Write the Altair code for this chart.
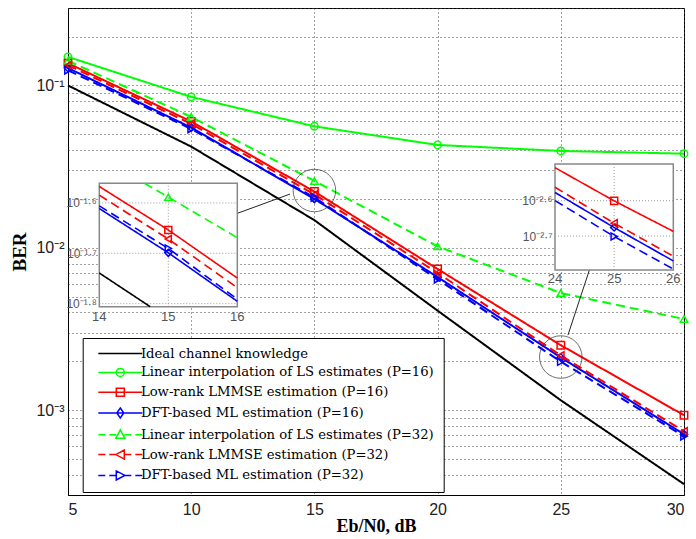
import math
import altair as alt
import pandas as pd

# ---------------- data ----------------
X = [5, 10, 15, 20, 25, 30]
SERIES = [
    "Ideal channel knowledge",
    "Linear interpolation of LS estimates (P=16)",
    "Low-rank LMMSE estimation (P=16)",
    "DFT-based ML estimation (P=16)",
    "Linear interpolation of LS estimates (P=32)",
    "Low-rank LMMSE estimation (P=32)",
    "DFT-based ML estimation (P=32)",
]
ideal   = [0.100, 0.042, 0.0148, 0.0041, 0.00115, 0.00035]
ls16    = [0.150, 0.085, 0.056, 0.043, 0.0395, 0.038]
lmmse16 = [0.137, 0.060, 0.0222, 0.0074, 0.00251, 0.00093]
dft16   = [0.128, 0.055, 0.0200, 0.0066, 0.00211, 0.00071]
ls32    = [0.142, 0.064, 0.0258, 0.0102, 0.00526, 0.00364]
lmmse32 = [0.133, 0.058, 0.0213, 0.0070, 0.00217, 0.00074]
dft32   = [0.124, 0.054, 0.0204, 0.0064, 0.00199, 0.00069]
VALUES = [ideal, ls16, lmmse16, dft16, ls32, lmmse32, dft32]

COLORS = ["#000000", "#00ff00", "#ff0000", "#0000ff", "#00ff00", "#ff0000", "#0000ff"]
DASHES = [[1, 0], [1, 0], [1, 0], [1, 0], [9, 5], [9, 5], [9, 5]]
MARKERS = [None, "circle", "square", "diamond", "triangle-up", "triangle-left", "triangle-right"]

# legend glyphs: line (solid / dashed) with the marker drawn on it
SOLID = "M0,0H44"
DASHED = "M0,0H7M11,0H18M26,0H33M37,0H44"
MK = {
    None: "",
    "circle": "M26,0A4,4 0 1,1 18,0A4,4 0 1,1 26,0",
    "square": "M18,-4H26V4H18Z",
    "diamond": "M22,-5L25.5,0L22,5L18.5,0Z",
    "triangle-up": "M22,-5L26.5,3.5L17.5,3.5Z",
    "triangle-left": "M17.5,0L26,-4.5L26,4.5Z",
    "triangle-right": "M26.5,0L18,-4.5L18,4.5Z",
}
LEG_SHAPES = [(SOLID if d == [1, 0] else DASHED) + MK[m] for d, m in zip(DASHES, MARKERS)]

# zoom circles (centre in data units) and connector lines (data units)
CIRCLES_X = [15, 25]
CIRCLES_Y = [10 ** -1.647, 10 ** -2.673]
CONN_X1 = [11.87, 26.16]
CONN_Y1 = [10 ** -1.788, 10 ** -2.137]
CONN_X2 = [14.01, 25.29]
CONN_Y2 = [10 ** -1.669, 10 ** -2.538]

# insets: domains
IN1_X = [14, 16]
IN1_L = [-1.806, -1.561]
IN2_X = [24, 26]
IN2_L = [-2.796, -2.496]

W, H = 616, 487

rows = []
for s, v in zip(SERIES, VALUES):
    for x, y in zip(X, v):
        rows.append({"series": s, "x": x, "y": y})
df = pd.DataFrame(rows)


def clip_poly(xs, ly, x0, x1, l0, l1):
    segs, cur = [], []
    for i in range(len(xs) - 1):
        ax, ay, bx, by = xs[i], ly[i], xs[i + 1], ly[i + 1]
        dx, dy = bx - ax, by - ay
        t0, t1, ok = 0.0, 1.0, True
        for p, q in ((-dx, ax - x0), (dx, x1 - ax), (-dy, ay - l0), (dy, l1 - ay)):
            if p == 0:
                if q < 0:
                    ok = False
                    break
            else:
                t = q / p
                if p < 0:
                    t0 = max(t0, t)
                else:
                    t1 = min(t1, t)
        if not ok or t0 > t1:
            if cur:
                segs.append(cur)
                cur = []
            continue
        p0 = (ax + t0 * dx, ay + t0 * dy)
        p1 = (ax + t1 * dx, ay + t1 * dy)
        if cur and abs(cur[-1][0] - p0[0]) < 1e-9 and abs(cur[-1][1] - p0[1]) < 1e-9:
            cur.append(p1)
        else:
            if cur:
                segs.append(cur)
            cur = [p0, p1]
    if cur:
        segs.append(cur)
    return segs


def inset_frames(xd, ld):
    lrows, prows = [], []
    k = 0
    for s, v in zip(SERIES, VALUES):
        ly = [math.log10(a) for a in v]
        for seg in clip_poly(X, ly, xd[0], xd[1], ld[0], ld[1]):
            for j, (px, pl) in enumerate(seg):
                lrows.append({"series": s, "seg": k, "ord": j, "x": px, "y": 10 ** pl})
            k += 1
        for x, a in zip(X, v):
            if xd[0] <= x <= xd[1] and ld[0] <= math.log10(a) <= ld[1]:
                prows.append({"series": s, "x": x, "y": a})
    return pd.DataFrame(lrows), pd.DataFrame(prows)


def line_layers(data, xenc, yenc, width, extra=None):
    out = []
    for s, c, d in zip(SERIES, COLORS, DASHES):
        if data.empty or not (data["series"] == s).any():
            continue
        enc = dict(x=xenc, y=yenc, color=alt.value(c), strokeDash=alt.value(d))
        if extra:
            enc.update(extra)
        else:
            enc["order"] = "x:Q"
        out.append(alt.Chart(data).transform_filter(alt.datum.series == s)
                   .mark_line(strokeWidth=width).encode(**enc))
    return out


def marker_layers(data, xenc, yenc, size=55):
    out = []
    for s, m, c in zip(SERIES, MARKERS, COLORS):
        if m is None or data.empty or not (data["series"] == s).any():
            continue
        out.append(
            alt.Chart(data).transform_filter(alt.datum.series == s)
            .mark_point(shape=m, filled=False, size=size, strokeWidth=1.5, opacity=1)
            .encode(x=xenc, y=yenc, color=alt.value(c))
        )
    return out


# ---------------- main plot ----------------
y_ticks = [round(m * 10 ** e, 8) for e in (-4, -3, -2) for m in range(1, 10)]
y_ticks = [t for t in y_ticks if t >= 0.0003] + [0.1, 0.2, 0.3]
main_x = alt.X("x:Q", scale=alt.Scale(domain=[5, 30], nice=False),
               axis=alt.Axis(orient="bottom", values=X, title="Eb/N0,  dB", grid=True,
                             gridDash=[1, 3], gridColor="#444", gridOpacity=1,
                             ticks=False, labelFont="Liberation Sans", labelFontSize=16,
                             labelColor="#222", labelPadding=6, titleFont="Liberation Serif",
                             titleFontSize=18, titleFontWeight="bold", titleColor="black",
                             titlePadding=0, domainColor="black"))
main_y = alt.Y("y:Q", scale=alt.Scale(type="log", domain=[0.0003, 0.3], nice=False),
               axis=alt.Axis(orient="left", values=y_ticks, grid=True, gridDash=[1, 3],
                             gridColor="#444", gridOpacity=1, ticks=False,
                             labelExpr="datum.value == 0.1 ? '10⁻¹' : datum.value == 0.01 ? '10⁻²' : datum.value == 0.001 ? '10⁻³' : ''",
                             labelFont="Liberation Sans", labelFontSize=16, labelColor="#222",
                             labelPadding=4, title="BER", titleFont="Liberation Serif",
                             titleFontSize=19, titleFontWeight="bold", titleColor="black",
                             titlePadding=6, domainColor="black"))

circ_df = pd.DataFrame({"x": CIRCLES_X, "y": CIRCLES_Y})
circles = alt.Chart(circ_df).mark_point(shape="circle", filled=False, size=1810,
                                         color="#333", strokeWidth=1).encode(x="x:Q", y="y:Q")
conn_df = pd.DataFrame({"x": CONN_X1, "y": CONN_Y1, "x2": CONN_X2, "y2": CONN_Y2})
connectors = alt.Chart(conn_df).mark_rule(color="#222", strokeWidth=1).encode(
    x="x:Q", y="y:Q", x2="x2:Q", y2="y2:Q")

leg = alt.Legend(title=None, orient="none", legendX=14.7, legendY=330, fillColor="white",
                 strokeColor="black", padding=9, labelFont="DejaVu Serif",
                 labelFontSize=13.2, labelColor="black", symbolSize=4, symbolStrokeWidth=1.5,
                 symbolOpacity=1, labelOffset=36, rowPadding=4.8, labelLimit=0)
legend_layer = alt.Chart(df).mark_point(filled=False, opacity=0).encode(
    x="x:Q", y="y:Q",
    color=alt.Color("series:N", scale=alt.Scale(domain=SERIES, range=COLORS), legend=leg),
    shape=alt.Shape("series:N", scale=alt.Scale(domain=SERIES, range=LEG_SHAPES), legend=leg),
)

main = alt.layer(*line_layers(df, main_x, main_y, 2), *marker_layers(df, "x:Q", "y:Q"),
                 circles, connectors, legend_layer)


# ---------------- insets ----------------
def make_inset(xd, ld, xr, yr, labs, label_dy):
    ldf, pdf = inset_frames(xd, ld)
    yvals = [10 ** v for v, _ in labs]
    expr = " : ".join(f"abs(datum.value - {10 ** v}) < {10 ** v * 1e-3} ? '{t}'" for v, t in labs) + " : ''"
    xvals = list(range(xd[0], xd[1] + 1))
    ix = alt.X("x:Q", scale=alt.Scale(domain=xd, range=xr, nice=False), axis=None)
    iy = alt.Y("y:Q", scale=alt.Scale(type="log", domain=[10 ** ld[0], 10 ** ld[1]], range=yr, nice=False),
               axis=alt.Axis(orient="left", offset=-xr[0], values=yvals, labelExpr=expr,
                             grid=False, ticks=False, domain=False, labelFont="Liberation Sans",
                             labelFontSize=12, labelColor="#555", labelPadding=3, title=None,
                             labelOverlap=False, labelFlush=False, zindex=1))
    box_df = pd.DataFrame({"x": [xd[0]], "x2": [xd[1]], "y": [10 ** ld[0]], "y2": [10 ** ld[1]]})
    box = alt.Chart(box_df).mark_rect(fill="white", stroke="#888", strokeWidth=1.5).encode(
        x=ix, x2="x2:Q", y=iy, y2="y2:Q")
    vg = pd.DataFrame({"x": xvals[1:-1], "y": [10 ** ld[0]] * (len(xvals) - 2),
                       "y2": [10 ** ld[1]] * (len(xvals) - 2)})
    hg = pd.DataFrame({"y": yvals, "x": [xd[0]] * len(yvals), "x2": [xd[1]] * len(yvals)})
    vgrid = alt.Chart(vg).mark_rule(color="#999", strokeDash=[1, 2], strokeWidth=1).encode(
        x="x:Q", y="y:Q", y2="y2:Q")
    hgrid = alt.Chart(hg).mark_rule(color="#999", strokeDash=[1, 2], strokeWidth=1).encode(
        y="y:Q", x="x:Q", x2="x2:Q")
    xl = pd.DataFrame({"x": xvals, "y": [10 ** ld[0]] * len(xvals), "t": [str(v) for v in xvals]})
    xlabels = alt.Chart(xl).mark_text(dy=label_dy, font="Liberation Sans", fontSize=13,
                                      color="#555", baseline="middle").encode(
        x="x:Q", y="y:Q", text="t:N")
    lines = line_layers(ldf, "x:Q", "y:Q", 1.6, extra={"detail": "seg:N", "order": "ord:Q"})
    return alt.layer(box, vgrid, hgrid, *lines, *marker_layers(pdf, "x:Q", "y:Q", size=50), xlabels)


inset1 = make_inset(IN1_X, IN1_L, [31.3, 169.3], [298.7, 175.3],
                    [(-1.8, "10⁻¹·⁸"), (-1.7, "10⁻¹·⁷"), (-1.6, "10⁻¹·⁶")], 10)
inset2 = make_inset(IN2_X, IN2_L, [487.0, 605.3], [262.0, 156.0],
                    [(-2.7, "10⁻²·⁷"), (-2.6, "10⁻²·⁶")], 9)

chart = (
    alt.layer(main, inset1, inset2)
    .resolve_scale(x="independent", y="independent")
    .properties(width=W, height=H, autosize=alt.AutoSizeParams(type="none"),
                padding={"left": 68, "top": 8, "right": 12, "bottom": 44},
                background="white")
    .configure_view(stroke="black", strokeWidth=1)
)

chart.save("out.html", embed_options={"renderer": "svg", "actions": False})
